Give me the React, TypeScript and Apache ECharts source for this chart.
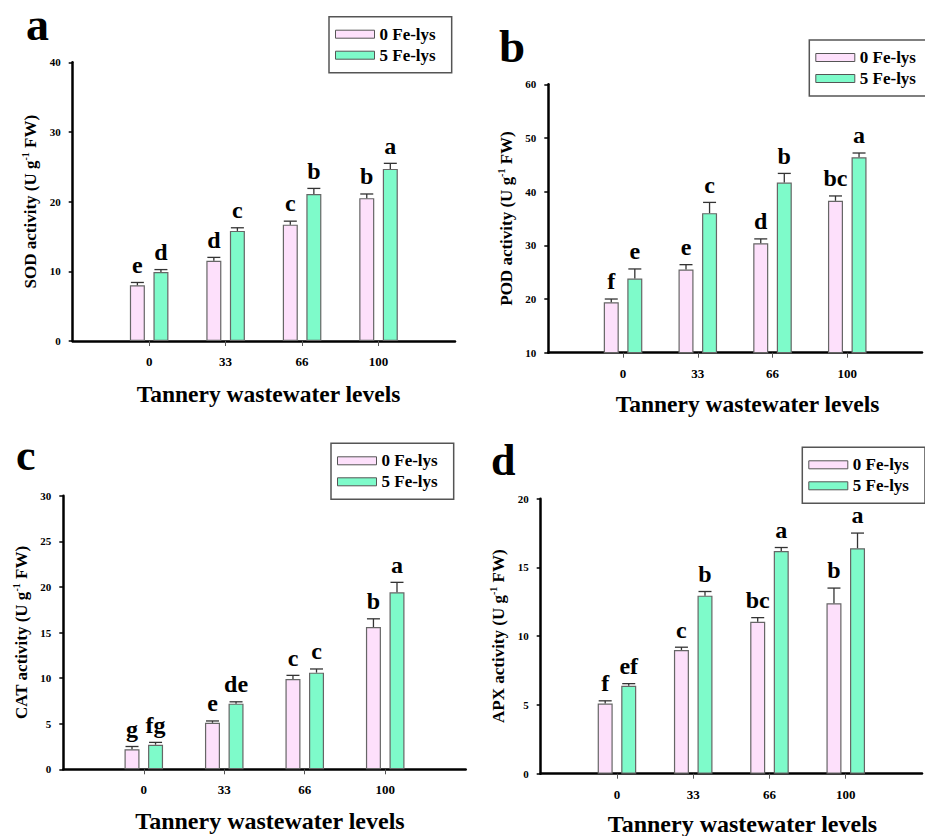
import React, { useEffect, useRef } from 'react';
import * as echarts from 'echarts';

// ---------- data ----------
const CATEGORIES = ['0', '33', '66', '100'];
const SERIES_NAMES = ['0 Fe-lys', '5 Fe-lys'];
const X_TITLE = 'Tannery wastewater levels';

// (a) SOD
const SOD_0 = [8.0, 11.5, 16.7, 20.5];
const SOD_0_ERR = [0.4, 0.5, 0.5, 0.6];
const SOD_0_LETTERS = ['e', 'd', 'c', 'b'];
const SOD_5 = [9.9, 15.8, 21.1, 24.7];
const SOD_5_ERR = [0.35, 0.45, 0.8, 0.8];
const SOD_5_LETTERS = ['d', 'c', 'b', 'a'];
const SOD_AXIS = [0, 40, 10];

// (b) POD
const POD_0 = [19.4, 25.5, 30.4, 38.3];
const POD_0_ERR = [0.6, 0.9, 0.8, 0.9];
const POD_0_LETTERS = ['f', 'e', 'd', 'bc'];
const POD_5 = [23.8, 36.0, 41.7, 46.4];
const POD_5_ERR = [1.8, 2.0, 1.7, 0.8];
const POD_5_LETTERS = ['e', 'c', 'b', 'a'];
const POD_AXIS = [10, 60, 10];

// (c) CAT
const CAT_0 = [2.2, 5.1, 9.9, 15.6];
const CAT_0_ERR = [0.3, 0.2, 0.4, 0.9];
const CAT_0_LETTERS = ['g', 'e', 'c', 'b'];
const CAT_5 = [2.7, 7.2, 10.6, 19.4];
const CAT_5_ERR = [0.25, 0.2, 0.4, 1.1];
const CAT_5_LETTERS = ['fg', 'de', 'c', 'a'];
const CAT_AXIS = [0, 30, 5];

// (d) APX
const APX_0 = [5.1, 9.0, 11.05, 12.4];
const APX_0_ERR = [0.2, 0.2, 0.3, 1.1];
const APX_0_LETTERS = ['f', 'c', 'bc', 'b'];
const APX_5 = [6.4, 12.95, 16.2, 16.4];
const APX_5_ERR = [0.15, 0.3, 0.25, 1.1];
const APX_5_LETTERS = ['ef', 'b', 'a', 'a'];
const APX_AXIS = [0, 20, 5];

// ---------- style / layout ----------
const FONT = "'Liberation Serif', 'Times New Roman', serif";
const PINK = '#fde0fb';
const GREEN = '#7efbca';
const BAR_BORDER = '#666666';
const BAR_W = 15;
const BAR_GAP = 0.57;
const CAP_W = 13;
const LETTER_FS = 24;

const PANELS = [
  {
    key: 'a', yName: 'SOD activity (U g', axis: SOD_AXIS,
    v0: SOD_0, e0: SOD_0_ERR, l0: SOD_0_LETTERS, v5: SOD_5, e5: SOD_5_ERR, l5: SOD_5_LETTERS,
    grid: { left: 72.7, top: 62.3, width: 382.3, height: 278.7 },
    legend: { left: 329, top: 16.7 },
    letter: { x: 26, y: 24, fs: 46 },
    title: { x: 268.5, y: 393.7, fs: 23.5 },
  },
  {
    key: 'b', yName: 'POD activity (U g', axis: POD_AXIS,
    v0: POD_0, e0: POD_0_ERR, l0: POD_0_LETTERS, v5: POD_5, e5: POD_5_ERR, l5: POD_5_LETTERS,
    grid: { left: 548.3, top: 84.3, width: 387.5, height: 268.4 },
    legend: { left: 809.3, top: 40 },
    letter: { x: 499, y: 45.7, fs: 47 },
    title: { x: 747.5, y: 404, fs: 23.5 },
  },
  {
    key: 'c', yName: 'CAT activity (U g', axis: CAT_AXIS,
    v0: CAT_0, e0: CAT_0_ERR, l0: CAT_0_LETTERS, v5: CAT_5, e5: CAT_5_ERR, l5: CAT_5_LETTERS,
    grid: { left: 63.3, top: 495.7, width: 402.4, height: 273.6 },
    legend: { left: 331, top: 443.3 },
    letter: { x: 16, y: 455.7, fs: 44 },
    title: { x: 270, y: 820.8, fs: 24 },
  },
  {
    key: 'd', yName: 'APX activity (U g', axis: APX_AXIS,
    v0: APX_0, e0: APX_0_ERR, l0: APX_0_LETTERS, v5: APX_5, e5: APX_5_ERR, l5: APX_5_LETTERS,
    grid: { left: 540.7, top: 498.7, width: 393.5, height: 275 },
    legend: { left: 802.3, top: 447.3 },
    letter: { x: 491, y: 460, fs: 44 },
    title: { x: 742.5, y: 823.5, fs: 24 },
  },
];

function makeErrRender(dx: number, letters: string[]) {
  return (params: any, api: any) => {
    const x = api.value(0);
    const v = api.value(1);
    const e = api.value(2);
    const b = api.coord([x, v]);
    const t = api.coord([x, v + e]);
    const cx = b[0] + dx;
    const half = CAP_W / 2;
    return {
      type: 'group',
      children: [
        { type: 'line', shape: { x1: cx, y1: b[1], x2: cx, y2: t[1] }, style: { stroke: '#333', lineWidth: 1.3 } },
        { type: 'line', shape: { x1: cx - half, y1: t[1], x2: cx + half, y2: t[1] }, style: { stroke: '#333', lineWidth: 1.3 } },
        {
          type: 'text', x: cx, y: t[1] - 9.6 - 0.3375 * LETTER_FS,
          style: {
            text: letters[params.dataIndex], fill: '#000', font: `bold ${LETTER_FS}px ${FONT}`,
            textAlign: 'center', textVerticalAlign: 'middle',
          },
        },
      ],
    };
  };
}

function buildOption() {
  const grid: any[] = [];
  const xAxis: any[] = [];
  const yAxis: any[] = [];
  const series: any[] = [];
  const legend: any[] = [];
  const graphic: any[] = [];
  const axisCats = ['', ...CATEGORIES, ''];
  const off = (BAR_W + BAR_W * BAR_GAP) / 2;

  PANELS.forEach((p, i) => {
    grid.push({ ...p.grid });
    xAxis.push({
      type: 'category', gridIndex: i, data: axisCats, boundaryGap: false,
      axisLine: { onZero: false, lineStyle: { color: '#000', width: 2.5 } },
      axisTick: { show: true, length: 5, interval: (_idx: number, val: string) => val !== '', lineStyle: { color: '#555', width: 1 } },
      axisLabel: { interval: 0, margin: 14, fontSize: 13, fontWeight: 'bold', fontFamily: FONT, color: '#000' },
      splitLine: { show: false },
    });
    yAxis.push({
      type: 'value', gridIndex: i, min: p.axis[0], max: p.axis[1], interval: p.axis[2],
      axisLine: { show: true, lineStyle: { color: '#000', width: 2.5 } },
      axisTick: { show: true, length: 4, lineStyle: { color: '#000', width: 1.5 } },
      axisLabel: { margin: 12, fontSize: 11, fontWeight: 'bold', fontFamily: FONT, color: '#000' },
      splitLine: { show: false },
      name: `{t|${p.yName}}{s|-1}{t| FW)}`,
      nameLocation: 'middle', nameRotate: 90, nameGap: 32,
      nameTextStyle: {
        rich: {
          t: { fontSize: 17, fontWeight: 'bold', fontFamily: FONT, color: '#000', lineHeight: 20 },
          s: { fontSize: 10, fontWeight: 'bold', fontFamily: FONT, color: '#000', lineHeight: 10, verticalAlign: 'top' },
        },
      },
    });
    const groups = [
      { name: SERIES_NAMES[0], v: p.v0, e: p.e0, l: p.l0, color: PINK, dx: -off },
      { name: SERIES_NAMES[1], v: p.v5, e: p.e5, l: p.l5, color: GREEN, dx: off },
    ];
    groups.forEach((g, gi) => {
      series.push({
        type: 'bar', name: g.name, xAxisIndex: i, yAxisIndex: i,
        data: [null, ...g.v, null], barWidth: BAR_W, barGap: `${BAR_GAP * 100}%`,
        itemStyle: { color: g.color, borderColor: BAR_BORDER, borderWidth: 1.2 },
        z: 2, silent: true,
      });
      series.push({
        type: 'custom', name: `err-${p.key}-${gi}`, xAxisIndex: i, yAxisIndex: i,
        data: g.v.map((v, j) => [j + 1, v, g.e[j]]),
        encode: { x: 0, y: 1 },
        renderItem: makeErrRender(g.dx, g.l), z: 5, silent: true, clip: false,
      });
    });
    legend.push({
      orient: 'vertical', left: p.legend.left, top: p.legend.top, data: SERIES_NAMES,
      itemWidth: 39, itemHeight: 8, itemGap: 3, padding: [8.5, 16, 8.5, 6],
      borderColor: '#555', borderWidth: 1.5, selectedMode: false, icon: 'rect',
      itemStyle: { borderColor: '#555', borderWidth: 1 },
      textStyle: { fontFamily: FONT, fontWeight: 'bold', fontSize: 17, color: '#000', lineHeight: 18 },
    });
    graphic.push({
      type: 'text', x: p.letter.x, y: p.letter.y,
      style: { text: p.key, font: `bold ${p.letter.fs}px ${FONT}`, fill: '#000', textAlign: 'left', textVerticalAlign: 'middle' },
    });
    graphic.push({
      type: 'text', x: p.title.x, y: p.title.y,
      style: { text: X_TITLE, font: `bold ${p.title.fs}px ${FONT}`, fill: '#000', textAlign: 'center', textVerticalAlign: 'middle' },
    });
  });

  return { animation: false, backgroundColor: '#fff', grid, xAxis, yAxis, series, legend, graphic };
}

export default function App() {
  const ref = useRef<HTMLDivElement>(null);
  useEffect(() => {
    if (!ref.current) return;
    const chart = echarts.init(ref.current, undefined, { renderer: 'svg' });
    chart.setOption(buildOption() as any);
    return () => chart.dispose();
  }, []);
  return <div ref={ref} style={{ position: 'fixed', left: 0, top: 0, width: 925, height: 836, background: '#fff' }} />;
}
